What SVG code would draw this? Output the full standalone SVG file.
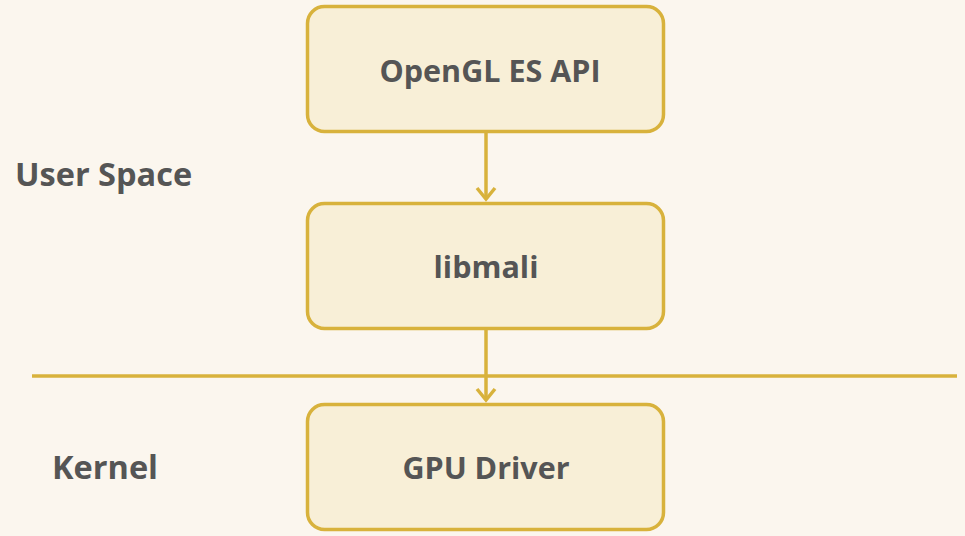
<svg xmlns="http://www.w3.org/2000/svg" width="965" height="536" viewBox="0 0 965 536">
<style>
.box{fill:#F8EFD7;stroke:#D8B23C;stroke-width:3.5}
.t{font-family:"Open Sans","Noto Sans",sans-serif;font-weight:bold;font-size:30.5px;fill:#555555}
.s{font-family:"Open Sans","Noto Sans",sans-serif;font-weight:bold;font-size:32.5px;fill:#555555}
.c{fill:none;stroke:#D8B23C;stroke-width:3.5}
</style>
<defs>
<marker id="ah" markerUnits="userSpaceOnUse" markerWidth="24" markerHeight="24" viewBox="0 0 24 24" refX="21" refY="12" orient="auto">
<path d="M10,3 L21,12 L10,21" fill="none" stroke="#D8B23C" stroke-width="3.5"/>
</marker>
</defs>
<rect width="965" height="536" fill="#FBF6EE"/>
<g id="connectors">
<line class="c" x1="32" y1="376" x2="957" y2="376"/>
<line class="c" x1="486" y1="131" x2="486" y2="199" marker-end="url(#ah)"/>
<line class="c" x1="486" y1="328" x2="486" y2="400" marker-end="url(#ah)"/>
</g>
<g id="opengl">
<rect class="box" x="307.5" y="6.5" width="356" height="125" rx="17"/>
<text class="t" x="490" y="82" text-anchor="middle">OpenGL ES API</text>
</g>
<g id="libmali">
<rect class="box" x="307.5" y="203.5" width="356" height="125" rx="17"/>
<text class="t" x="486" y="278" text-anchor="middle">libmali</text>
</g>
<g id="gpudriver">
<rect class="box" x="307.5" y="404.5" width="356" height="125" rx="17"/>
<text class="t" x="486" y="479" text-anchor="middle">GPU Driver</text>
</g>
<g id="userspace">
<text class="s" x="15" y="186">User Space</text>
</g>
<g id="kernel">
<text class="s" x="52" y="479">Kernel</text>
</g>
</svg>
